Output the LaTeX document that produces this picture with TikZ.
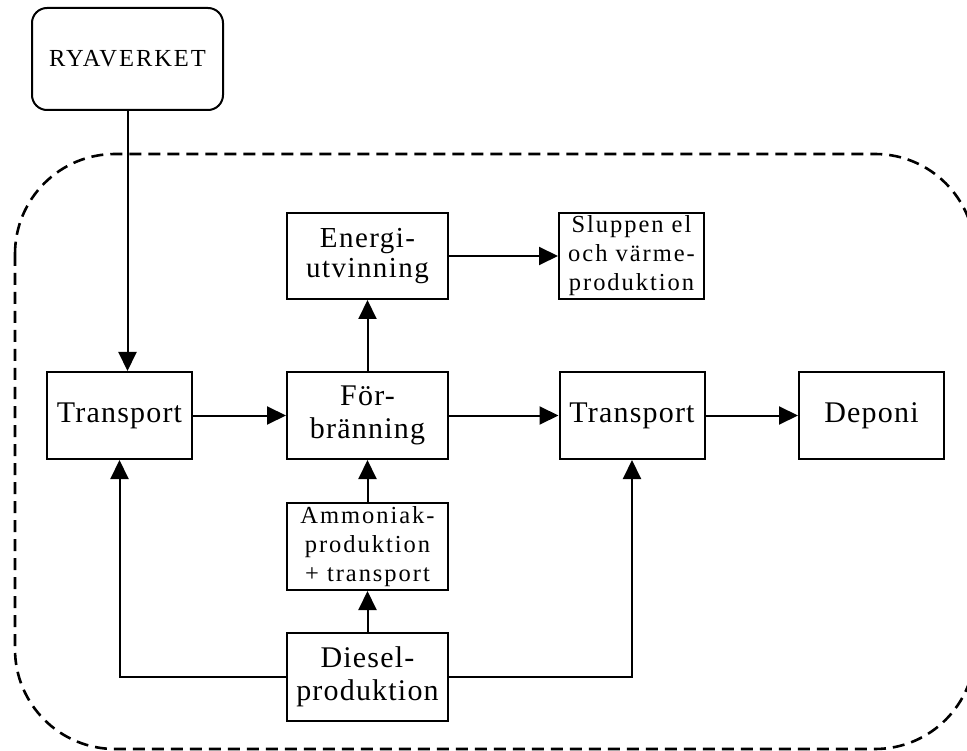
\documentclass[tikz,border=0pt]{standalone}
\usepackage{fontspec}
\setmainfont{Liberation Serif}
\usetikzlibrary{arrows.meta}
% size, leading, letter spacing
\newcommand\txtsize[3]{\fontsize{#1}{#2}\addfontfeatures{LetterSpace=#3}}
\begin{document}
\begin{tikzpicture}[x=1pt,y=-1pt,
  box/.style={draw,line width=2pt,minimum width=145pt,minimum height=87pt,
    align=center,inner sep=0pt},
  widebox/.style={box,minimum width=161pt},
  bigtext/.style={font=\txtsize{30}{33}{4}},
  midtext/.style={font=\txtsize{29}{29.5}{5}},
  smalltext/.style={font=\txtsize{24.5}{29}{8}},
  flow/.style={line width=2pt,-{Triangle[length=19pt,width=18pt]}},
  boundary/.style={line width=2.6pt,dash pattern=on 12pt off 7pt,rounded corners=100pt}]
\useasboundingbox (0,0) rectangle (967,751);
\clip (0,0) rectangle (967,751);

% system boundary
\draw[boundary] (15,154) rectangle (975,749);

% source
\node[box,rounded corners=15pt,minimum width=191pt,minimum height=102pt,
  font=\txtsize{24.5}{28}{8}] (rya) at (127.5,59) {RYAVERKET};

% main chain
\node[box,bigtext] (t1) at (119.5,415.5) {Transport};
\node[widebox,bigtext] (forb) at (367.5,415.5) {För-\\bränning};
\node[box,bigtext] (t2) at (632,415.5) {Transport};
\node[box,bigtext] (dep) at (871.5,415.5) {Deponi};

% energy recovery
\node[widebox,midtext,minimum height=86pt] (energi) at (367.5,256) {Energi-\\utvinning};
\node[box,smalltext,minimum height=86pt] (slup) at (631.5,256) {Sluppen el\\och värme-\\produktion};

% auxiliary inputs
\node[widebox,smalltext] (amm) at (367.5,546.5) {Ammoniak-\\produktion\\+ transport};
\node[widebox,bigtext,minimum height=88pt] (diesel) at (367.5,677) {Diesel-\\produktion};

% connectors
\draw[flow] (rya.south) -- (rya.south |- t1.north);
\draw[flow] (t1.east) -- (forb.west);
\draw[flow] (forb.east) -- (t2.west);
\draw[flow] (t2.east) -- (dep.west);
\draw[flow] (forb.north) -- (energi.south);
\draw[flow] (energi.east) -- (slup.west);
\draw[flow] (amm.north) -- (forb.south);
\draw[flow] (diesel.north) -- (amm.south);
\draw[flow] (diesel.west) -| (t1.south);
\draw[flow] (diesel.east) -| (t2.south);
\end{tikzpicture}
\end{document}
